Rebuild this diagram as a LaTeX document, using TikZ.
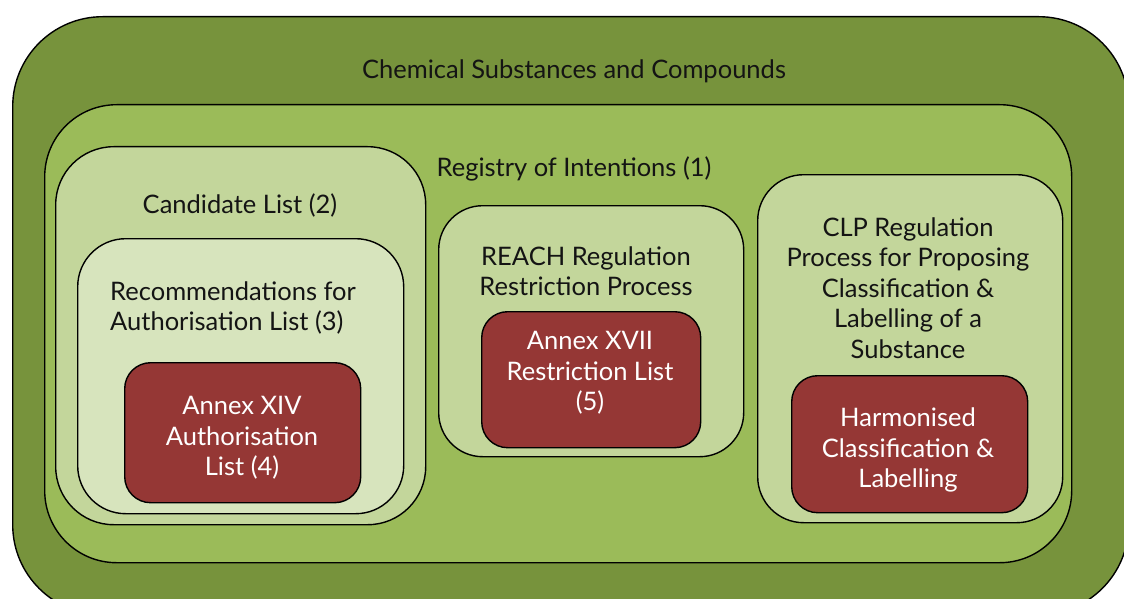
\documentclass[tikz,border=0pt]{standalone}
\usepackage{fontspec}
\setmainfont{Lato}
\definecolor{gDark}{HTML}{77933C}
\definecolor{gMid}{HTML}{9BBB59}
\definecolor{gLight}{HTML}{C3D69B}
\definecolor{gPale}{HTML}{D7E4BD}
\definecolor{rBox}{HTML}{953735}
\definecolor{txtDark}{HTML}{141414}
\tikzset{
  box/.style={draw=black, line width=1.4pt, inner sep=0pt, anchor=north west},
  lbl/.style={inner sep=0pt, text=txtDark, align=center, font=\fontsize{25.5}{30.5}\selectfont},
  wlbl/.style={lbl, text=white},
}
\begin{document}
\begin{tikzpicture}[x=1pt,y=-1pt]
\useasboundingbox (0,0) rectangle (1124,599);
\clip (0,0) rectangle (1124,599);
% containers
\node[box, fill=gDark, rounded corners=90pt, minimum width=1116pt, minimum height=598pt] (outer) at (12,16) {};
\node[box, fill=gMid, rounded corners=72pt, minimum width=1027pt, minimum height=458pt] (registry) at (44,104) {};
\node[box, fill=gLight, rounded corners=58pt, minimum width=370pt, minimum height=378pt] (candidate) at (55,146) {};
\node[box, fill=gPale, rounded corners=48pt, minimum width=326pt, minimum height=275pt] (recom) at (77,238) {};
\node[box, fill=rBox, rounded corners=26pt, minimum width=236pt, minimum height=140pt] (annex14) at (124,362) {};
\node[box, fill=gLight, rounded corners=44pt, minimum width=305pt, minimum height=251pt] (reach) at (438,205) {};
\node[box, fill=rBox, rounded corners=26pt, minimum width=219pt, minimum height=136pt] (annex17) at (481,311) {};
\node[box, fill=gLight, rounded corners=46pt, minimum width=305pt, minimum height=348pt] (clp) at (757,174) {};
\node[box, fill=rBox, rounded corners=26pt, minimum width=236pt, minimum height=137pt] (harm) at (791,375) {};
% labels
\node[lbl] (tOuter) at (574,71) {Chemical Substances and Compounds};
\node[lbl] (tRegistry) at (574,169) {Registry of Intentions (1)};
\node[lbl] (tCandidate) at (240,205) {Candidate List (2)};
\node[lbl, align=left, anchor=west] (tRecom) at (110,308) {Recommendations for\\Authorisation List (3)};
\node[wlbl] (tAnnex14) at (242,438) {Annex XIV\\Authorisation\\List (4)};
\node[lbl] (tReach) at (586,271) {REACH Regulation\\Restriction Process};
\node[wlbl] (tAnnex17) at (590,373) {Annex XVII\\Restriction List\\(5)};
\node[lbl] (tClp) at (908,288) {CLP Regulation\\Process for Proposing\\Classification \&\\Labelling of a\\Substance};
\node[wlbl] (tHarm) at (908,450) {Harmonised\\Classification \&\\Labelling};
\end{tikzpicture}
\end{document}
